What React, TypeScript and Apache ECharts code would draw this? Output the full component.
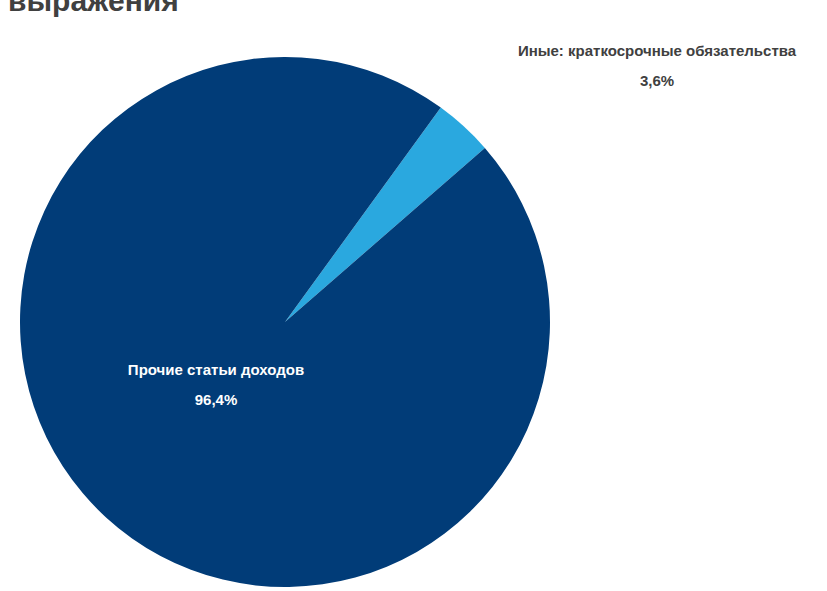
import React, { useEffect, useRef } from "react";
import * as echarts from "echarts";

const titleText = "выражения";
const categories = ["Иные: краткосрочные обязательства", "Прочие статьи доходов"];
const values = [3.6, 96.4];
const colors = ["#2AA8DF", "#013C78"];

export default function App() {
  const ref = useRef<HTMLDivElement>(null);
  useEffect(() => {
    document.body.style.margin = "0";
    if (!ref.current) return;
    const chart = echarts.init(ref.current, null, { renderer: "svg" });
    const total = values.reduce((a, b) => a + b, 0);
    const fmt = (v: number) => ((v / total) * 100).toFixed(1).replace(".", ",") + "%";
    chart.setOption({
      animation: false,
      backgroundColor: "#ffffff",
      graphic: [
        {
          type: "text",
          x: 8,
          y: 0,
          style: {
            text: titleText,
            font: "bold 30px 'Liberation Sans', Arial, sans-serif",
            fill: "#404040",
            verticalAlign: "middle",
            align: "left",
          },
        },
      ],
      series: [
        {
          type: "pie",
          center: [285, 322],
          radius: [0, 265],
          startAngle: 54,
          clockwise: true,
          silent: true,
          data: categories.map((name, i) => ({
            name,
            value: values[i],
            itemStyle: { color: colors[i] },
            label: {
              position: i === 0 ? "outside" : "inside",
              color: i === 0 ? "#404040" : "#ffffff",
            },
            labelLine: { show: false },
          })),
          label: {
            show: true,
            fontFamily: "'Liberation Sans', Arial, sans-serif",
            fontSize: 15,
            fontWeight: "bold",
            lineHeight: 30,
            align: "center",
            formatter: (p: any) => p.name + "\n" + fmt(p.value),
          },
          labelLine: { show: false },
          labelLayout: (p: any) => {
            if (p.dataIndex === 0) {
              return { x: 657, y: 65, align: "center", verticalAlign: "middle" };
            }
            return { x: 216, y: 384, align: "center", verticalAlign: "middle" };
          },
        },
      ],
    });
    return () => chart.dispose();
  }, []);
  return <div ref={ref} style={{ width: 827, height: 591 }} />;
}
